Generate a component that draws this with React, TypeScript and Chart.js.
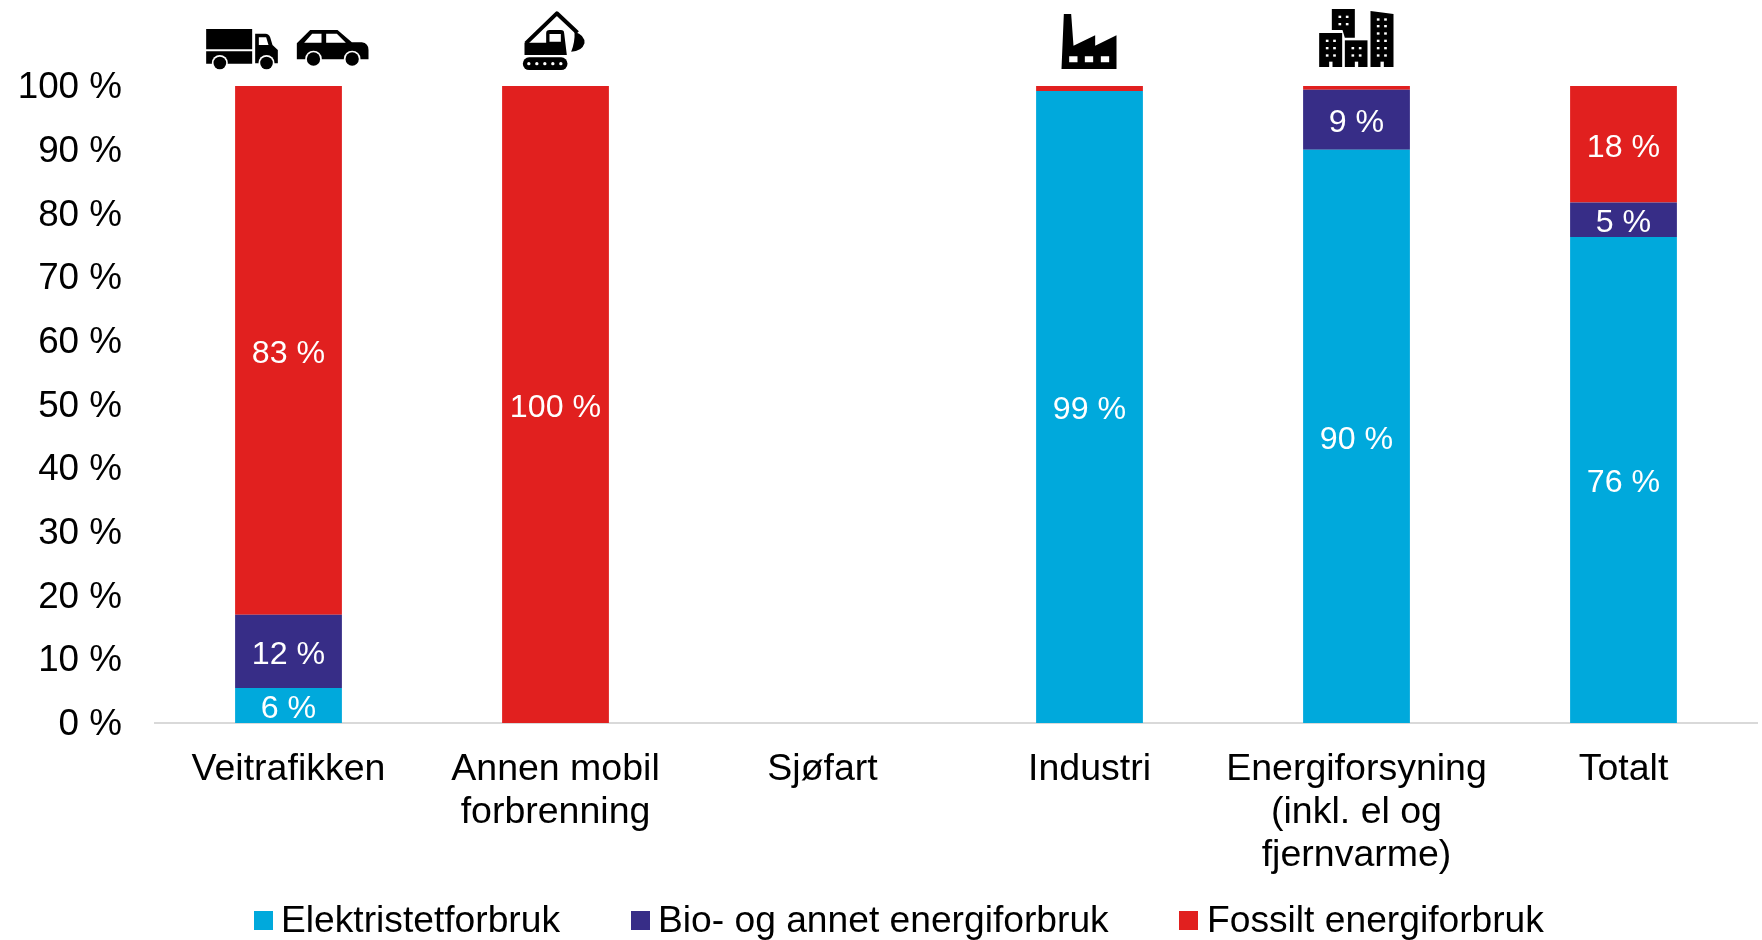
import React, { useEffect, useRef } from "react";
import { Chart, registerables } from "chart.js";

Chart.register(...registerables);

const categories = [
  "Veitrafikken",
  ["Annen mobil", "forbrenning"],
  "Sjøfart",
  "Industri",
  ["Energiforsyning", "(inkl. el og", "fjernvarme)"],
  "Totalt",
];
const elektrisitet = [5.5, 0, 0, 99.2, 90.0, 76.3];
const bio = [11.5, 0, 0, 0, 9.4, 5.4];
const fossilt = [83.0, 100, 0, 0.8, 0.6, 18.3];
const seriesNames = ["Elektristetforbruk", "Bio- og annet energiforbruk", "Fossilt energiforbruk"];
const seriesColors = ["#00A9DC", "#372D87", "#E1201F"];
const yTicks = [0, 10, 20, 30, 40, 50, 60, 70, 80, 90, 100];

const FONT = '"Liberation Sans", Arial, sans-serif';
const INK = "#000000";

function circle(c: CanvasRenderingContext2D, x: number, y: number, r: number, color: string) {
  c.fillStyle = color;
  c.beginPath();
  c.arc(x, y, r, 0, Math.PI * 2);
  c.fill();
}
function fillPath(c: CanvasRenderingContext2D, d: string, color = INK) {
  c.fillStyle = color;
  c.fill(new Path2D(d), "evenodd");
}

function drawTruck(c: CanvasRenderingContext2D) {
  fillPath(c, "M78 87H216V148H78Z M78 154H216V191H78Z");
  fillPath(c, "M225 101H256Q266 101 270 112L277 135L293 150V190H225Z M236 112H258L265 135H236Z");
  [119, 259].forEach((x) => {
    circle(c, x, 189, 24, "#fff");
    circle(c, x, 189, 19, INK);
  });
}
function drawCar(c: CanvasRenderingContext2D) {
  fillPath(
    c,
    "M350 130L390 90H472L515 127H545Q565 130 565 150V178H350Z M372 128L396 101H424V128Z M438 101H470L497 128H438Z"
  );
  [400, 516].forEach((x) => {
    circle(c, x, 177, 25, "#fff");
    circle(c, x, 177, 20, INK);
  });
}
function drawExcavator(c: CanvasRenderingContext2D) {
  c.strokeStyle = INK;
  c.lineWidth = 12;
  c.lineJoin = "round";
  c.beginPath();
  c.moveTo(1037, 130);
  c.lineTo(1130, 40);
  c.lineTo(1192, 98);
  c.stroke();
  fillPath(c, "M1183 95Q1215 105 1213 130Q1205 155 1173 155Q1185 125 1183 95Z");
  fillPath(
    c,
    "M1033 128H1098V100Q1098 90 1108 90H1142Q1152 90 1152 100L1160 165H1033Z M1108 102H1142V125H1108Z"
  );
  c.fillStyle = INK;
  c.beginPath();
  c.roundRect(1028, 172, 134, 38, 19);
  c.fill();
  [1046, 1070, 1094, 1118, 1142].forEach((x) => circle(c, x, 191, 5, "#fff"));
}
function drawFactory(c: CanvasRenderingContext2D) {
  fillPath(
    c,
    "M93 207L100 42H122L129 137L194 106V137L258 106V207Z M116 169H141V187H116Z M163 169H188V187H163Z M211 169H236V187H211Z"
  );
}
function drawCity(c: CanvasRenderingContext2D) {
  fillPath(c, "M904 27H973V113H943L936 90H904Z");
  fillPath(c, "M866 99H935V201H866Z");
  fillPath(c, "M943 121H1011V201H943Z");
  fillPath(c, "M1020 33L1089 42V201H1020Z");
  c.fillStyle = "#fff";
  const win = (xs: number[], ys: number[]) =>
    xs.forEach((x) => ys.forEach((y) => c.fillRect(x, y, 8, 7)));
  win([924, 946], [47, 69]);
  win([886, 908], [119, 141, 163]);
  win([963, 985], [141, 163]);
  win([1039, 1061], [55, 75, 97, 119, 141, 163]);
  [896, 973, 1050].forEach((x) => c.fillRect(x, 185, 10, 16));
}

const iconPlugin = {
  id: "icons",
  afterDraw(chart: any) {
    const c: CanvasRenderingContext2D = chart.ctx;
    const xs = chart.scales.x;
    const top = chart.scales.y.getPixelForValue(100);
    const put = (index: number, refX: number, draw: ((c: CanvasRenderingContext2D) => void)[]) => {
      c.save();
      c.translate(xs.getPixelForValue(index), top);
      c.scale(1 / 3, 1 / 3);
      c.translate(-refX, -258);
      draw.forEach((d) => d(c));
      c.restore();
    };
    put(0, 325, [drawTruck, drawCar]);
    put(1, 1126, [drawExcavator]);
    put(3, 177, [drawFactory]);
    put(4, 978, [drawCity]);
  },
};

const valueLabelPlugin = {
  id: "valueLabels",
  afterDatasetsDraw(chart: any) {
    const c: CanvasRenderingContext2D = chart.ctx;
    c.save();
    c.font = `32.2px ${FONT}`;
    c.fillStyle = "#ffffff";
    c.textAlign = "center";
    c.textBaseline = "middle";
    chart.data.datasets.forEach((ds: any, di: number) => {
      chart.getDatasetMeta(di).data.forEach((bar: any, i: number) => {
        const v = ds.data[i];
        if (v < 1) return;
        c.fillText(`${Math.round(v)} %`, bar.x, (bar.y + bar.base) / 2 + 3.5);
      });
    });
    c.restore();
  },
};

const legendPlugin = {
  id: "bottomLegend",
  afterDraw(chart: any) {
    const c: CanvasRenderingContext2D = chart.ctx;
    const boxLeft = [254, 631, 1179];
    const textLeft = [281, 658, 1207];
    c.save();
    c.font = `37.2px ${FONT}`;
    c.textBaseline = "middle";
    c.textAlign = "left";
    chart.data.datasets.forEach((ds: any, i: number) => {
      c.fillStyle = ds.backgroundColor;
      c.fillRect(boxLeft[i], 911, 19, 19);
      c.fillStyle = INK;
      c.fillText(ds.label, textLeft[i], 922);
    });
    c.restore();
  },
};

export default function App() {
  const ref = useRef<HTMLCanvasElement>(null);
  useEffect(() => {
    const chart = new Chart(ref.current as HTMLCanvasElement, {
      type: "bar",
      data: {
        labels: categories as any,
        datasets: [elektrisitet, bio, fossilt].map((data, i) => ({
          label: seriesNames[i],
          data,
          backgroundColor: seriesColors[i],
          barPercentage: 0.4,
          categoryPercentage: 1,
        })),
      },
      plugins: [iconPlugin, valueLabelPlugin, legendPlugin],
      options: {
        responsive: false,
        animation: false,
        layout: { padding: { top: 86, right: 5, bottom: 0, left: 0 } },
        plugins: { legend: { display: false }, title: { display: false }, tooltip: { enabled: false } },
        scales: {
          x: {
            stacked: true,
            grid: { display: false, drawTicks: false },
            border: { display: true, color: "#D9D9D9", width: 2 },
            ticks: {
              color: INK,
              font: { family: FONT, size: 37.5, lineHeight: 1.15 },
              padding: 25,
              autoSkip: false,
              maxRotation: 0,
            },
            afterFit(s: any) {
              s.height = 217;
            },
          },
          y: {
            stacked: true,
            min: 0,
            max: 100,
            afterBuildTicks(s: any) {
              s.ticks = yTicks.map((value) => ({ value }));
            },
            grid: { display: false, drawTicks: false },
            border: { display: false },
            ticks: {
              color: INK,
              font: { family: FONT, size: 36.8 },
              padding: 33,
              labelOffset: 2,
              callback: (v: any) => `${v} %`,
            },
            afterFit(s: any) {
              s.width = 155;
            },
          },
        },
      },
    } as any);
    return () => chart.destroy();
  }, []);
  return (
    <div style={{ position: "fixed", left: 0, top: 0, width: 1762, height: 940, background: "#fff" }}>
      <canvas ref={ref} width={1762} height={940} style={{ display: "block" }} />
    </div>
  );
}
